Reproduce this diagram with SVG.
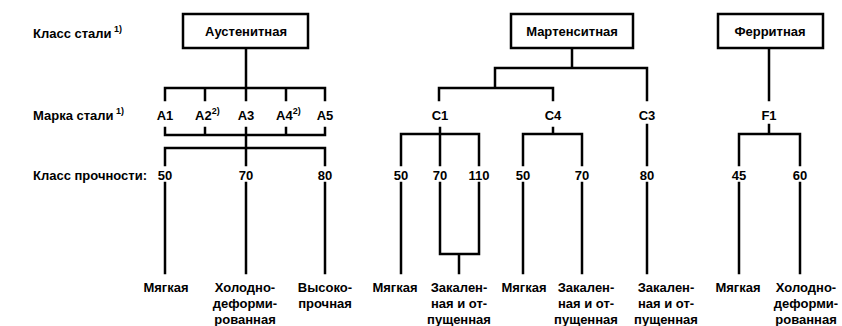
<svg xmlns="http://www.w3.org/2000/svg" width="842" height="326" viewBox="0 0 842 326">
<style>
text{font-family:"Liberation Sans",Arial,sans-serif;font-weight:bold;font-size:13px;fill:#000}
.c{text-anchor:middle}
.sup{font-size:9px}
.box{fill:#fff;stroke:#000;stroke-width:2.5}
.ln{fill:none;stroke:#000;stroke-width:2.5;stroke-linecap:square}
</style>
<rect width="842" height="326" fill="#fff"/>
<g id="row-labels">
<text x="33" y="38">Класс стали<tspan class="sup" dy="-6"> 1)</tspan></text>
<text x="33" y="120">Марка стали<tspan class="sup" dy="-6"> 1)</tspan></text>
<text x="33" y="180">Класс прочности:</text>
</g>
<g id="connectors">
<path class="ln" d="M246,48V88M165,100V88H325V100M205,88V100M246,88V100M286,88V100"/>
<path class="ln" d="M165,128V135H325V128M205,128V135M246,128V148M286,128V135M165,165V148H325V165M246,148V165"/>
<path class="ln" d="M165,183V273M246,183V273M325,183V273"/>
<path class="ln" d="M572,48V68M495,88V68H647V100M439,100V88H553V100"/>
<path class="ln" d="M440,128V134M401,165V134H479V165M440,134V165M553,128V134M523,165V134H582V165M647,125V165"/>
<path class="ln" d="M401,183V273M440,183V254H479V183M459,254V273M523,183V273M582,183V273M647,183V273"/>
<path class="ln" d="M769,48V100M769,125V134M739,165V134H800V165M739,183V273M800,183V273"/>
</g>
<g id="aust"><rect class="box" x="183" y="14" width="125" height="34"/><text class="c" x="246" y="36">Аустенитная</text></g>
<g id="mart"><rect class="box" x="511" y="14" width="122" height="34"/><text class="c" x="572" y="36">Мартенситная</text></g>
<g id="ferr"><rect class="box" x="718" y="14" width="105" height="34"/><text class="c" x="770" y="36">Ферритная</text></g>
<g id="grades">
<text class="c" x="165" y="120">A1</text>
<text x="195" y="120">A2<tspan class="sup" dy="-6">2)</tspan></text>
<text class="c" x="246" y="120">A3</text>
<text x="276" y="120">A4<tspan class="sup" dy="-6">2)</tspan></text>
<text class="c" x="325" y="120">A5</text>
<text class="c" x="440" y="120">C1</text>
<text class="c" x="553" y="120">C4</text>
<text class="c" x="647" y="120">C3</text>
<text class="c" x="769" y="120">F1</text>
</g>
<g id="classes">
<text class="c" x="165" y="180">50</text>
<text class="c" x="246" y="180">70</text>
<text class="c" x="325" y="180">80</text>
<text class="c" x="401" y="180">50</text>
<text class="c" x="440" y="180">70</text>
<text class="c" x="479" y="180">110</text>
<text class="c" x="523" y="180">50</text>
<text class="c" x="582" y="180">70</text>
<text class="c" x="647" y="180">80</text>
<text class="c" x="739" y="180">45</text>
<text class="c" x="800" y="180">60</text>
</g>
<g id="states">
<text class="c" x="166" y="292">Мягкая</text>
<text class="c" x="245" y="292">Холодно-<tspan x="245" dy="16">деформи-</tspan><tspan x="245" dy="16">рованная</tspan></text>
<text class="c" x="325" y="292">Высоко-<tspan x="325" dy="16">прочная</tspan></text>
<text class="c" x="395" y="292">Мягкая</text>
<text class="c" x="459" y="292">Закален-<tspan x="459" dy="16">ная и от-</tspan><tspan x="459" dy="16">пущенная</tspan></text>
<text class="c" x="524" y="292">Мягкая</text>
<text class="c" x="586" y="292">Закален-<tspan x="586" dy="16">ная и от-</tspan><tspan x="586" dy="16">пущенная</tspan></text>
<text class="c" x="666" y="292">Закален-<tspan x="666" dy="16">ная и от-</tspan><tspan x="666" dy="16">пущенная</tspan></text>
<text class="c" x="738" y="292">Мягкая</text>
<text class="c" x="806" y="292">Холодно-<tspan x="806" dy="16">деформи-</tspan><tspan x="806" dy="16">рованная</tspan></text>
</g>
</svg>
